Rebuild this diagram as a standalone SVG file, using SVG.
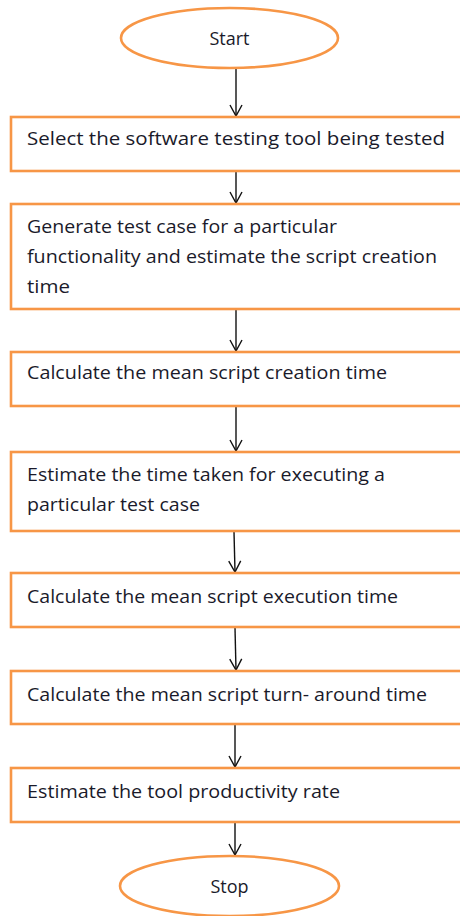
<svg xmlns="http://www.w3.org/2000/svg" width="460" height="916" viewBox="0 0 460 916">
<style>
.sh{fill:#fff;stroke:#F79646;stroke-width:2.6}
.t{font-family:"Open Sans","Liberation Sans",sans-serif;font-size:17.5px;fill:#1a1a2a}
.c{text-anchor:middle;font-size:18px}
.cn{stroke:#111;stroke-width:1.4;fill:none}
</style>
<defs>
<marker id="ah" markerWidth="14" markerHeight="14" refX="12" refY="7" orient="auto" markerUnits="userSpaceOnUse" viewBox="0 0 14 14">
<path d="M1,1 L12,7 L1,13" fill="none" stroke="#111" stroke-width="1.4"/>
</marker>
</defs>
<g id="connectors">
<line class="cn" x1="236" y1="69" x2="236" y2="116" marker-end="url(#ah)"/>
<line class="cn" x1="236" y1="171" x2="236" y2="203" marker-end="url(#ah)"/>
<line class="cn" x1="236" y1="310" x2="236" y2="351" marker-end="url(#ah)"/>
<line class="cn" x1="236" y1="407" x2="236" y2="451" marker-end="url(#ah)"/>
<line class="cn" x1="234" y1="532" x2="235" y2="572" marker-end="url(#ah)"/>
<line class="cn" x1="235" y1="628" x2="236" y2="670" marker-end="url(#ah)"/>
<line class="cn" x1="235" y1="725" x2="235" y2="767" marker-end="url(#ah)"/>
<line class="cn" x1="235" y1="823" x2="235" y2="855" marker-end="url(#ah)"/>
</g>
<g id="start">
<ellipse class="sh" cx="229.5" cy="38" rx="108.5" ry="30"/>
<text class="t c" x="229.5" y="45">Start</text>
</g>
<g id="n1">
<rect class="sh" x="11" y="117" width="460" height="54"/>
<text class="t" x="27" y="145" textLength="418" lengthAdjust="spacingAndGlyphs">Select the software testing tool being tested</text>
</g>
<g id="n2">
<rect class="sh" x="11" y="204" width="460" height="105"/>
<text class="t" x="27" y="233" textLength="310" lengthAdjust="spacingAndGlyphs">Generate test case for a particular</text>
<text class="t" x="27" y="263" textLength="410" lengthAdjust="spacingAndGlyphs">functionality and estimate the script creation</text>
<text class="t" x="27" y="293" textLength="43" lengthAdjust="spacingAndGlyphs">time</text>
</g>
<g id="n3">
<rect class="sh" x="11" y="352" width="460" height="54"/>
<text class="t" x="27" y="379" textLength="360" lengthAdjust="spacingAndGlyphs">Calculate the mean script creation time</text>
</g>
<g id="n4">
<rect class="sh" x="11" y="452" width="460" height="79"/>
<text class="t" x="27" y="481" textLength="358" lengthAdjust="spacingAndGlyphs">Estimate the time taken for executing a</text>
<text class="t" x="27" y="511" textLength="173" lengthAdjust="spacingAndGlyphs">particular test case</text>
</g>
<g id="n5">
<rect class="sh" x="11" y="573" width="460" height="54"/>
<text class="t" x="27" y="603" textLength="371" lengthAdjust="spacingAndGlyphs">Calculate the mean script execution time</text>
</g>
<g id="n6">
<rect class="sh" x="11" y="671" width="460" height="53"/>
<text class="t" x="27" y="701" textLength="400" lengthAdjust="spacingAndGlyphs">Calculate the mean script turn- around time</text>
</g>
<g id="n7">
<rect class="sh" x="11" y="768" width="460" height="54"/>
<text class="t" x="27" y="798" textLength="313" lengthAdjust="spacingAndGlyphs">Estimate the tool productivity rate</text>
</g>
<g id="stop">
<ellipse class="sh" cx="229.5" cy="886" rx="109.5" ry="30"/>
<text class="t c" x="229.5" y="893">Stop</text>
</g>
</svg>
